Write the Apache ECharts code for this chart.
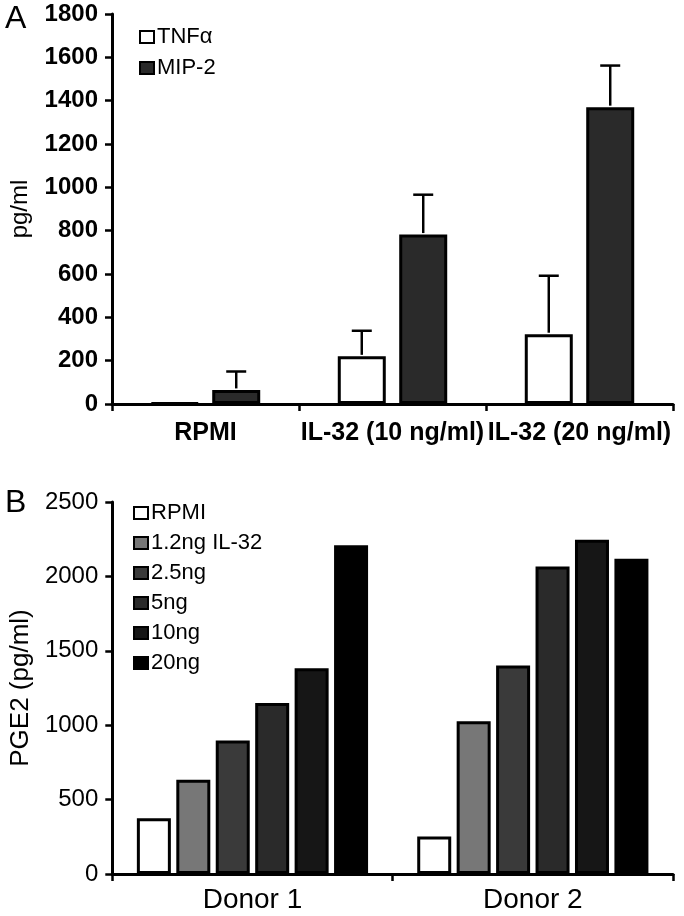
<!DOCTYPE html>
<html>
<head>
<meta charset="utf-8">
<script src="https://cdn.jsdelivr.net/npm/echarts@6/dist/echarts.min.js"></script>
<style>
html,body{margin:0;padding:0;background:#fff;}
#chart{width:684px;height:916px;}
</style>
</head>
<body>
<div id="chart"></div>
<script>
// ---- Panel A data ----
const catsA = ['RPMI', 'IL-32 (10 ng/ml)', 'IL-32 (20 ng/ml)'];
const tnfVals = [5, 220, 322];
const tnfSd = [0, 118, 270];
const mipVals = [65, 782, 1370];
const mipSd = [85, 184, 192];
const yTicksA = {min: 0, max: 1800, interval: 200};

// ---- Panel B data ----
const catsB = ['Donor 1', 'Donor 2'];
const doseNames = ['RPMI', '1.2ng IL-32', '2.5ng', '5ng', '10ng', '20ng'];
const rpmiB = [375, 252];
const d12 = [634, 1027];
const d25 = [898, 1401];
const d5 = [1150, 2066];
const d10 = [1383, 2246];
const d20 = [2210, 2118];
const yTicksB = {min: 0, max: 2500, interval: 500};

const FONT = '"Liberation Sans", Arial, sans-serif';
const doseData = [rpmiB, d12, d25, d5, d10, d20];
const doseColors = ['#ffffff', '#777777', '#3a3a3a', '#2a2a2a', '#161616', '#000000'];

const bwA = 48, gapA = 0.28;
const offA = bwA * (1 + gapA) / 2;

function makeErr(offset) {
  return function (params, api) {
    const sd = api.value(2);
    if (!sd) return null;
    const idx = api.value(0);
    const v = api.value(1);
    const base = api.coord([idx, v]);
    const top = api.coord([idx, v + sd]);
    const x = base[0] + offset;
    return {
      type: 'group',
      children: [
        {type: 'line', shape: {x1: x, y1: base[1] - 1.5, x2: x, y2: top[1]}, style: {stroke: '#000', lineWidth: 2.5}},
        {type: 'line', shape: {x1: x - 10, y1: top[1], x2: x + 10, y2: top[1]}, style: {stroke: '#000', lineWidth: 2.5}}
      ]
    };
  };
}

const axisLineStyle = {show: true, lineStyle: {color: '#000', width: 3}};
const plain = v => String(v);

const series = [
  {
    name: 'TNFα', type: 'bar', xAxisIndex: 0, yAxisIndex: 0,
    data: tnfVals, barWidth: bwA, barGap: (gapA * 100) + '%',
    itemStyle: {color: '#ffffff', borderColor: '#000', borderWidth: 3}
  },
  {
    name: 'MIP-2', type: 'bar', xAxisIndex: 0, yAxisIndex: 0,
    data: mipVals, barWidth: bwA, barGap: (gapA * 100) + '%',
    itemStyle: {color: '#2a2a2a', borderColor: '#000', borderWidth: 3}
  },
  {
    type: 'custom', xAxisIndex: 0, yAxisIndex: 0, z: 5,
    renderItem: makeErr(-offA),
    data: tnfVals.map((v, i) => [i, v, tnfSd[i]])
  },
  {
    type: 'custom', xAxisIndex: 0, yAxisIndex: 0, z: 5,
    renderItem: makeErr(offA),
    data: mipVals.map((v, i) => [i, v, mipSd[i]])
  }
];

doseNames.forEach((n, i) => {
  series.push({
    name: n, type: 'bar', xAxisIndex: 1, yAxisIndex: 1,
    data: doseData[i], barWidth: 34, barGap: '16%',
    itemStyle: {color: doseColors[i], borderColor: '#000', borderWidth: 3}
  });
});

const chart = echarts.init(document.getElementById('chart'), null, {renderer: 'canvas'});
chart.setOption({
  animation: false,
  backgroundColor: '#fff',
  title: [
    {text: 'A', left: 0, top: -2, textStyle: {fontFamily: FONT, fontSize: 32, fontWeight: 'normal', color: '#000'}},
    {text: 'B', left: 0, top: 482, textStyle: {fontFamily: FONT, fontSize: 32, fontWeight: 'normal', color: '#000'}}
  ],
  legend: [
    {
      data: ['TNFα', 'MIP-2'], orient: 'vertical', left: 134, top: 21,
      itemWidth: 14, itemHeight: 12, itemGap: 9,
      icon: 'rect',
      itemStyle: {borderColor: '#000', borderWidth: 2},
      textStyle: {fontFamily: FONT, fontSize: 22, color: '#000', padding: [0, 0, 0, -2]},
      selectedMode: false
    },
    {
      data: doseNames, orient: 'vertical', left: 128, top: 497,
      itemWidth: 14, itemHeight: 12, itemGap: 8,
      icon: 'rect',
      itemStyle: {borderColor: '#000', borderWidth: 2},
      textStyle: {fontFamily: FONT, fontSize: 22, color: '#000', padding: [0, 0, 0, -2]},
      selectedMode: false
    }
  ],
  grid: [
    {left: 107, top: 14, width: 566, height: 390, containLabel: false},
    {left: 107, top: 502, width: 566, height: 372, containLabel: false}
  ],
  xAxis: [
    {
      type: 'category', gridIndex: 0, data: catsA,
      axisLine: axisLineStyle,
      axisTick: {show: true, length: 7, inside: false, alignWithLabel: false, interval: 0, lineStyle: {color: '#000', width: 2.5}},
      axisLabel: {interval: 0, margin: 17, fontFamily: FONT, fontSize: 25, fontWeight: 'bold', color: '#000'},
      splitLine: {show: false}
    },
    {
      type: 'category', gridIndex: 1, data: catsB,
      axisLine: axisLineStyle,
      axisTick: {show: true, length: 7, inside: false, alignWithLabel: false, interval: 0, lineStyle: {color: '#000', width: 2.5}},
      axisLabel: {interval: 0, margin: 12, fontFamily: FONT, fontSize: 28, color: '#000'},
      splitLine: {show: false}
    }
  ],
  yAxis: [
    {
      type: 'value', gridIndex: 0, min: yTicksA.min, max: yTicksA.max, interval: yTicksA.interval,
      name: 'pg/ml', nameLocation: 'middle', nameGap: 80, nameRotate: 90,
      nameTextStyle: {fontFamily: FONT, fontSize: 24, color: '#000'},
      axisLine: axisLineStyle,
      axisTick: {show: true, length: 7, inside: false, lineStyle: {color: '#000', width: 2.5}},
      axisLabel: {margin: 14, fontFamily: FONT, fontSize: 24, fontWeight: 'bold', color: '#000', formatter: plain},
      splitLine: {show: false}
    },
    {
      type: 'value', gridIndex: 1, min: yTicksB.min, max: yTicksB.max, interval: yTicksB.interval,
      name: 'PGE2 (pg/ml)', nameLocation: 'middle', nameGap: 77, nameRotate: 90,
      nameTextStyle: {fontFamily: FONT, fontSize: 26, color: '#000'},
      axisLine: axisLineStyle,
      axisTick: {show: true, length: 7, inside: false, lineStyle: {color: '#000', width: 2.5}},
      axisLabel: {margin: 14, fontFamily: FONT, fontSize: 24, color: '#000', formatter: plain},
      splitLine: {show: false}
    }
  ],
  series: series
});
</script>
</body>
</html>
